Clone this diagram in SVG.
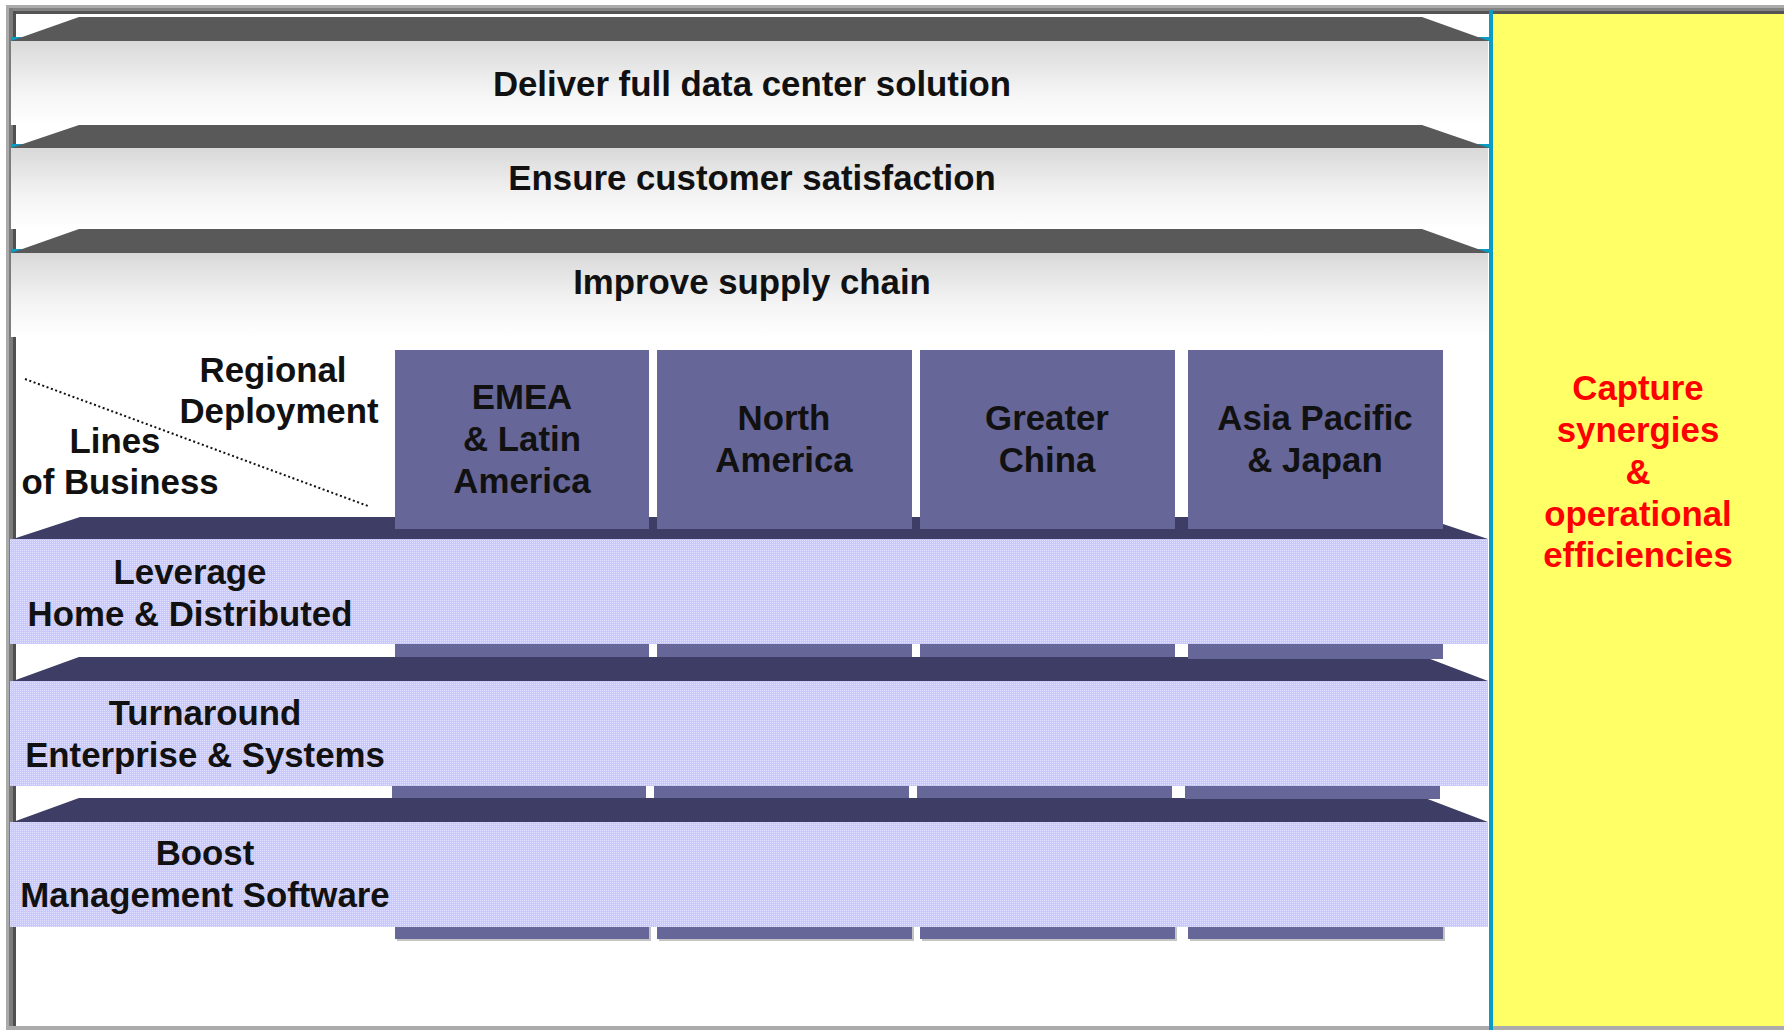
<svg xmlns="http://www.w3.org/2000/svg" width="1784" height="1030" viewBox="0 0 1784 1030">
  <style>
    .lbl { font-family: "Liberation Sans", Arial, Helvetica, sans-serif; font-weight: bold; font-size: 34.8px; fill: #111111; text-anchor: middle; }
    .red { fill: #ff0000; }
    .shelf-gray { fill: #595959; }
    .shelf-navy { fill: #3d3d66; }
    .sheen { fill: url(#sheen); }
    .lav { fill: url(#dots); }
    .box { fill: #666699; }
    .shadow { fill: #c4c4c4; }
    .tick { fill: #0a9cc2; }
  </style>
  <defs>
    <linearGradient id="sheen" x1="0" y1="0" x2="0" y2="1">
      <stop offset="0" stop-color="#d9d9d9"/>
      <stop offset="0.6" stop-color="#f4f4f4"/>
      <stop offset="1" stop-color="#ffffff"/>
    </linearGradient>
    <pattern id="dots" width="2" height="2" patternUnits="userSpaceOnUse">
      <rect width="2" height="2" fill="#c8c8fa"/>
      <rect width="1" height="1" fill="#e2e2ff"/>
    </pattern>
  </defs>

  <!-- page, frame, side panel -->
  <g id="frame">
    <rect x="0" y="0" width="1784" height="1030" fill="#ffffff"/>
    <rect x="6" y="5" width="1778" height="3" fill="#ababab"/>
    <rect x="9" y="8" width="1775" height="3" fill="#838383"/>
    <rect x="12" y="11" width="1772" height="3" fill="#555555"/>
    <rect x="6" y="5" width="3" height="1025" fill="#ababab"/>
    <rect x="9" y="8" width="4" height="1022" fill="#7c7c7c"/>
    <rect x="13" y="11" width="3" height="1015" fill="#505050"/>
    <rect x="6" y="1026" width="1778" height="4" fill="#ababab"/>
    <rect x="1493" y="14" width="291" height="1012" fill="#ffff66"/>
    <rect x="1489" y="10" width="4" height="1020" fill="#0a9cc2"/>
  </g>

  <!-- top-down goals -->
  <g id="deliver">
    <rect class="tick" x="11" y="37" width="1478" height="4"/>
    <polygon class="shelf-gray" points="11,41 79,17 1422,17 1489,41"/>
    <rect class="sheen" x="11" y="41" width="1477" height="84"/>
    <text class="lbl" x="752" y="96">Deliver full data center solution</text>
  </g>
  <g id="ensure">
    <rect class="tick" x="11" y="144" width="1478" height="4"/>
    <polygon class="shelf-gray" points="11,148 79,125 1422,125 1489,148"/>
    <rect class="sheen" x="11" y="148" width="1477" height="81"/>
    <text class="lbl" x="752" y="190">Ensure customer satisfaction</text>
  </g>
  <g id="improve">
    <rect class="tick" x="11" y="249" width="1478" height="4"/>
    <polygon class="shelf-gray" points="11,253 79,229 1422,229 1489,253"/>
    <rect class="sheen" x="11" y="253" width="1477" height="84"/>
    <text class="lbl" x="752" y="294">Improve supply chain</text>
  </g>

  <!-- matrix axis captions -->
  <g id="axis-caption">
    <line x1="25" y1="379" x2="368" y2="506" stroke="#111111" stroke-width="2" stroke-dasharray="2 2.6"/>
    <text class="lbl" x="273" y="382">Regional</text>
    <text class="lbl" x="279" y="423">Deployment</text>
    <text class="lbl" x="115" y="453">Lines</text>
    <text class="lbl" x="120" y="494">of Business</text>
  </g>

  <!-- shelves under each line of business -->
  <g id="shelves">
    <polygon class="shelf-navy" points="13,539 80,517 1422,517 1488,539"/>
    <polygon class="shelf-navy" points="13,681 79,657 1425,657 1488,681"/>
    <polygon class="shelf-navy" points="13,822 79,798 1425,798 1488,822"/>
  </g>

  <!-- regional columns -->
  <g id="emea">
    <rect class="box" x="395" y="350" width="254" height="179"/>
    <rect class="box" x="395" y="640" width="254" height="17"/>
    <rect class="box" x="392" y="782" width="254" height="16"/>
    <rect class="shadow" x="397" y="923" width="254" height="18"/>
    <rect class="box" x="395" y="923" width="254" height="16"/>
    <text class="lbl" x="522" y="409">EMEA</text>
    <text class="lbl" x="522" y="451">&amp; Latin</text>
    <text class="lbl" x="522" y="493">America</text>
  </g>
  <g id="north-america">
    <rect class="box" x="657" y="350" width="255" height="179"/>
    <rect class="box" x="657" y="640" width="255" height="17"/>
    <rect class="box" x="654" y="782" width="255" height="16"/>
    <rect class="shadow" x="659" y="923" width="255" height="18"/>
    <rect class="box" x="657" y="923" width="255" height="16"/>
    <text class="lbl" x="784" y="430">North</text>
    <text class="lbl" x="784" y="472">America</text>
  </g>
  <g id="greater-china">
    <rect class="box" x="920" y="350" width="255" height="179"/>
    <rect class="box" x="920" y="640" width="255" height="17"/>
    <rect class="box" x="917" y="782" width="255" height="16"/>
    <rect class="shadow" x="922" y="923" width="255" height="18"/>
    <rect class="box" x="920" y="923" width="255" height="16"/>
    <text class="lbl" x="1047" y="430">Greater</text>
    <text class="lbl" x="1047" y="472">China</text>
  </g>
  <g id="asia-pacific">
    <rect class="box" x="1188" y="350" width="255" height="179"/>
    <rect class="box" x="1188" y="640" width="255" height="19"/>
    <rect class="box" x="1185" y="782" width="255" height="17"/>
    <rect class="shadow" x="1190" y="923" width="255" height="18"/>
    <rect class="box" x="1188" y="923" width="255" height="16"/>
    <text class="lbl" x="1315" y="430">Asia Pacific</text>
    <text class="lbl" x="1315" y="472">&amp; Japan</text>
  </g>

  <!-- lines of business -->
  <g id="leverage">
    <rect class="lav" x="10" y="539" width="1478" height="105"/>
    <text class="lbl" x="190" y="584">Leverage</text>
    <text class="lbl" x="190" y="626">Home &amp; Distributed</text>
  </g>
  <g id="turnaround">
    <rect class="lav" x="10" y="681" width="1478" height="105"/>
    <text class="lbl" x="205" y="725">Turnaround</text>
    <text class="lbl" x="205" y="767">Enterprise &amp; Systems</text>
  </g>
  <g id="boost">
    <rect class="lav" x="10" y="822" width="1478" height="105"/>
    <text class="lbl" x="205" y="865">Boost</text>
    <text class="lbl" x="205" y="907">Management Software</text>
  </g>

  <!-- cross-cutting objective -->
  <g id="synergies">
    <text class="lbl red" x="1638" y="400">Capture</text>
    <text class="lbl red" x="1638" y="442">synergies</text>
    <text class="lbl red" x="1638" y="484">&amp;</text>
    <text class="lbl red" x="1638" y="526">operational</text>
    <text class="lbl red" x="1638" y="567">efficiencies</text>
  </g>
</svg>
